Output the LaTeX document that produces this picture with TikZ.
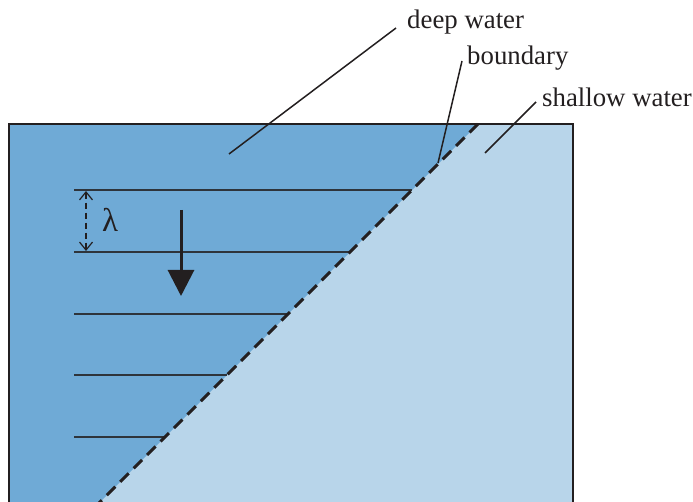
\documentclass[tikz,border=0pt]{standalone}
\usepackage{fontspec}
\setmainfont{Liberation Serif}
\usetikzlibrary{arrows.meta}
\definecolor{deep}{RGB}{111,170,214}
\definecolor{shallow}{RGB}{184,213,234}
\definecolor{ink}{RGB}{35,31,32}
\begin{document}
\begin{tikzpicture}[x=1pt,y=-1pt,
  lbl/.style={anchor=base west,inner sep=0pt,font=\fontsize{26.8}{30}\selectfont,text=ink},
  leader/.style={draw=ink,line width=1.5pt},
  wave/.style={draw=ink!85!deep,line width=1.5pt},
  border/.style={draw=ink,line width=1.5pt}]
\useasboundingbox (0,0) rectangle (693,502);
\begin{scope}
\clip (0,0) rectangle (693,502);
\fill[shallow] (9,124) rectangle (573,530);
\fill[deep] (9,124) -- (478,124) -- (72,530) -- (9,530) -- cycle;
\foreach \y/\xe in {190/412,252/350,314/288,375/227,437/165}
  \draw[wave] (74,\y) -- (\xe,\y);
\draw[ink,line width=3pt,dash pattern=on 12pt off 7pt] (478,124) -- (72,530);
\draw[border] (9,530) -- (9,124) -- (573,124) -- (573,530);
\end{scope}
% wavelength marker
\coordinate (la) at (86,191);
\coordinate (lb) at (86,251);
\draw[ink,line width=1.2pt,dash pattern=on 6pt off 4pt,
  {Straight Barb[length=8pt,width=13pt]}-{Straight Barb[length=8pt,width=13pt]}] (la) -- (lb);
\node[lbl,font=\fontsize{33}{36}\selectfont] (lam) at (102,232) {λ};
% propagation arrow
\coordinate (pa) at (181,210);
\coordinate (pb) at (181,296);
\draw[ink,line width=3pt,-{Triangle[length=26pt,width=26pt]}] (pa) -- (pb);
% labels
\node[lbl] (dw) at (407,29) {deep water};
\node[lbl] (bd) at (467,65) {boundary};
\node[lbl] (sw) at (542,107) {shallow water};
\coordinate (dwa) at (229,154);
\coordinate (dwb) at (396,28);
\coordinate (bda) at (438,163);
\coordinate (bdb) at (462,61);
\coordinate (swa) at (485,153);
\coordinate (swb) at (536,102);
\draw[leader] (dwa) -- (dwb);
\draw[leader] (bda) -- (bdb);
\draw[leader] (swa) -- (swb);
\end{tikzpicture}
\end{document}
